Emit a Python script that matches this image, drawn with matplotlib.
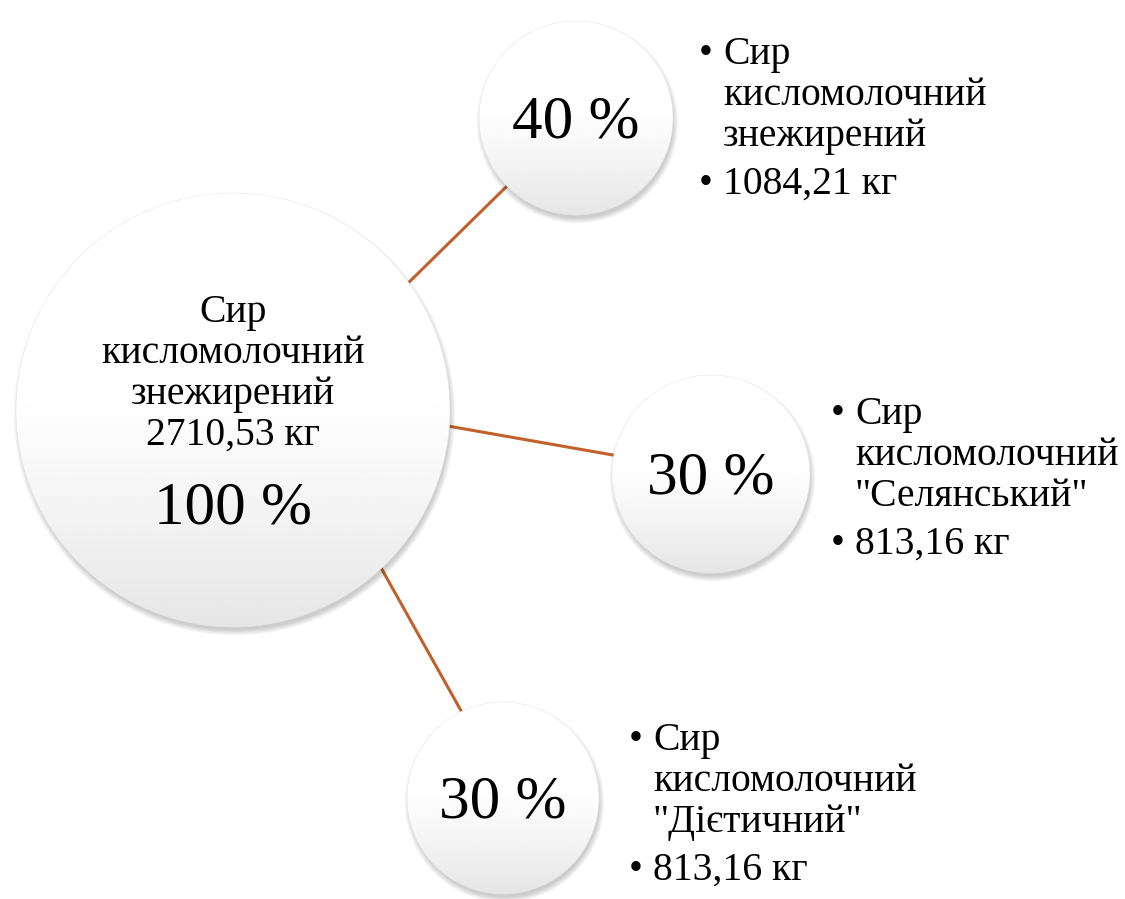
import numpy as np
import matplotlib
matplotlib.use("Agg")
import matplotlib.pyplot as plt
from matplotlib.patches import Circle

# дані
head_name = ["Сир", "кисломолочний", "знежирений"]
head_mass = 2710.53
head_pct = 100

names = [
    ["Сир", "кисломолочний", "знежирений"],
    ["Сир", "кисломолочний", "\"Селянський\""],
    ["Сир", "кисломолочний", "\"Дієтичний\""],
]
masses = [1084.21, 813.16, 813.16]
pcts = [40, 30, 30]

# розміщення (пікселі)
big = (233, 410, 217)
small = [(576, 118, 97), (711, 474, 99), (503, 798, 96)]
# кути кінців з'єднувальних ліній: на великому колі, на малому
link_ang = [(35.8, 224.6), (-4.2, 169.0), (-46.6, 115.5)]
label_pos = [(706, 723, 64), (838, 855, 424), (636, 653, 750)]

FONT = "Liberation Serif"
LINE = "#c0612b"
TXT = 28.5
PCT = 44
pitch = 41
gap = 7


def kg(v):
    return ("%.2f" % v).replace(".", ",") + " кг"


fig = plt.figure(figsize=(11.25, 8.99), dpi=100)
ax = fig.add_axes([0, 0, 1, 1])
ax.axis("off")

grad = np.linspace(0, 1, 256)
grad = 1 - 0.10 * np.clip((grad - 0.45) / 0.55, 0, 1) ** 1.2
grad = np.repeat(grad.reshape(-1, 1), 4, axis=1)


def bubble(cx, cy, r):
    # тінь
    for k in range(10):
        ax.add_patch(Circle((cx + 1.5, cy + 4.5), r + 4 - k * 0.6, color="k",
                            alpha=0.02, lw=0, zorder=2))
    im = ax.imshow(grad, cmap="gray", vmin=0, vmax=1, aspect="auto",
                   extent=(cx - r, cx + r, cy + r, cy - r), zorder=3,
                   interpolation="bilinear")
    clip = Circle((cx, cy), r, transform=ax.transData)
    im.set_clip_path(clip)
    ax.add_patch(Circle((cx, cy), r, fill=False, ec="#e6e6e6", lw=0.4,
                        zorder=4))


# лінії
bx, by, br = big
for (sx, sy, sr), (a1, a2) in zip(small, link_ang):
    a1 = np.radians(a1)
    a2 = np.radians(a2)
    p1 = (bx + (br - 4) * np.cos(a1), by - (br - 4) * np.sin(a1))
    p2 = (sx + (sr - 4) * np.cos(a2), sy - (sr - 4) * np.sin(a2))
    ax.plot([p1[0], p2[0]], [p1[1], p2[1]], color=LINE, lw=2.2, zorder=1,
            solid_capstyle="butt")

bubble(*big)
for c in small:
    bubble(*c)

# текст у великому колі
lines = head_name + [kg(head_mass)]
for i, s in enumerate(lines):
    ax.text(bx, 322 + i * pitch, s, ha="center", va="baseline",
            fontsize=TXT, family=FONT, zorder=5)
ax.text(bx, 523, "%d %%" % head_pct, ha="center", va="baseline",
        fontsize=PCT, family=FONT, zorder=5)

# відсотки у малих колах
for (sx, sy, sr), p in zip(small, pcts):
    ax.text(sx, sy + 19, "%d %%" % p, ha="center", va="baseline",
            fontsize=PCT, family=FONT, zorder=5)

# підписи з маркерами
for (xb, xt, y0), nm, m in zip(label_pos, names, masses):
    ax.text(xb, y0, "•", ha="center", va="baseline", fontsize=TXT,
            family=FONT)
    for i, s in enumerate(nm):
        ax.text(xt, y0 + i * pitch, s, ha="left", va="baseline",
                fontsize=TXT, family=FONT)
    y1 = y0 + len(nm) * pitch + gap
    ax.text(xb, y1, "•", ha="center", va="baseline", fontsize=TXT,
            family=FONT)
    ax.text(xt, y1, kg(m), ha="left", va="baseline", fontsize=TXT,
            family=FONT)

ax.set_xlim(0, 1125)
ax.set_ylim(899, 0)
fig.savefig("out.png", dpi=100, facecolor="white")
